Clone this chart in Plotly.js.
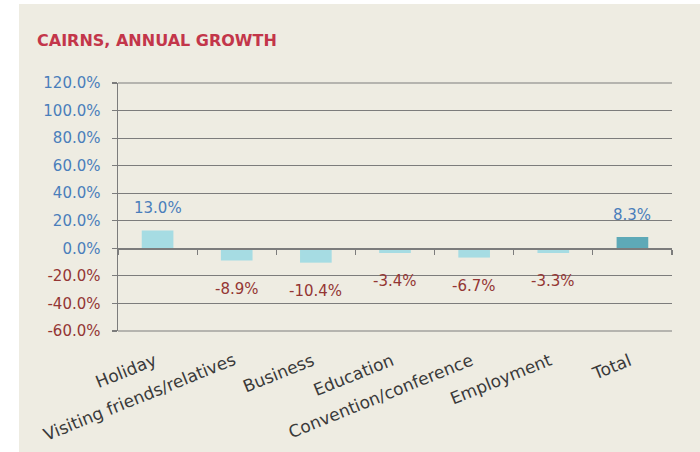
<!DOCTYPE html>
<html>
<head>
<meta charset="utf-8">
<script src="https://cdn.plot.ly/plotly-3.0.1.min.js"></script>
<style>
  html, body { margin: 0; padding: 0; background: #ffffff; width: 700px; height: 452px; overflow: hidden; }
  #chart { position: absolute; left: 19px; top: 4px; width: 681px; height: 448px; }
</style>
</head>
<body>
<div id="chart"></div>
<script>
// ---- data ----
const categories = ['Holiday', 'Visiting friends/relatives', 'Business', 'Education', 'Convention/conference', 'Employment', 'Total'];
const growth = [13.0, -8.9, -10.4, -3.4, -6.7, -3.3, 8.3];
const yTickVals = [120, 100, 80, 60, 40, 20, 0, -20, -40, -60];
const titleText = 'CAIRNS, ANNUAL GROWTH';

// ---- style ----
const yMin = -60, yMax = 120;
const posColor = '#4a7ebb';
const negColor = '#943634';
const gridColor = '#7c7c7c';
const font = 'DejaVu Sans, sans-serif';

const barColors = categories.map(c => c === 'Total' ? '#5ea9b7' : '#a6dce3');

const yTickText = yTickVals.map(v =>
  '<span style="color:' + (v < 0 ? negColor : posColor) + '">' + v.toFixed(1) + '%</span>');

const annotations = [];
// data labels
categories.forEach((c, i) => {
  const v = growth[i];
  annotations.push({
    x: c, y: v, xref: 'x', yref: 'y',
    text: v.toFixed(1) + '%',
    showarrow: false,
    xanchor: 'center', yanchor: 'middle',
    yshift: v >= 0 ? 22 : -28,
    font: { family: font, size: 15, color: v >= 0 ? posColor : negColor }
  });
});
// category labels (rotated)
categories.forEach((c) => {
  annotations.push({
    x: c, y: 0, xref: 'x', yref: 'paper',
    text: c,
    showarrow: false,
    textangle: -22,
    xanchor: 'right', yanchor: 'top',
    xshift: 4, yshift: -16,
    font: { family: font, size: 17, color: '#3a3a3a' }
  });
});

// edge gridlines (top / bottom of value range), in paper units so they are not clipped
const shapes = [yMin, yMax].map(v => {
  const p = (v - yMin) / (yMax - yMin);
  return {
    type: 'line', xref: 'paper', yref: 'paper', x0: 0, x1: 1, y0: p, y1: p,
    line: { color: gridColor, width: 1 }, layer: 'below'
  };
});

const trace = {
  type: 'bar',
  x: categories,
  y: growth,
  width: 0.4,
  marker: { color: barColors, line: { width: 0 } },
  hoverinfo: 'x+y'
};

const layout = {
  width: 681, height: 448,
  paper_bgcolor: '#eeece2',
  plot_bgcolor: '#eeece2',
  margin: { l: 99, r: 28, t: 79, b: 121 },
  showlegend: false,
  title: {
    text: '<b>' + titleText + '</b>',
    x: 18 / 681, xref: 'container', xanchor: 'left',
    y: 1 - 36 / 448, yref: 'container', yanchor: 'middle',
    font: { family: font, size: 16, color: '#c3364a' }
  },
  xaxis: {
    type: 'category',
    range: [-0.5, categories.length - 0.5],
    anchor: 'free',
    position: (0 - yMin) / (yMax - yMin),
    showline: true, linecolor: gridColor, linewidth: 1.5,
    ticks: 'outside', tickson: 'boundaries', ticklen: 5, tickcolor: gridColor, tickwidth: 1.2,
    showticklabels: false,
    showgrid: false, zeroline: false,
    fixedrange: true
  },
  yaxis: {
    range: [yMin, yMax],
    tickvals: yTickVals,
    ticktext: yTickText,
    tickfont: { family: font, size: 15 },
    showgrid: true, gridcolor: gridColor, gridwidth: 1,
    showline: true, linecolor: gridColor, linewidth: 1.5,
    ticks: 'outside', ticklen: 5, tickcolor: gridColor, tickwidth: 1.2,
    ticklabelstandoff: 8,
    zeroline: false,
    fixedrange: true
  },
  shapes: shapes,
  annotations: annotations
};

Plotly.newPlot('chart', [trace], layout, { displayModeBar: false, staticPlot: true });
</script>
</body>
</html>
